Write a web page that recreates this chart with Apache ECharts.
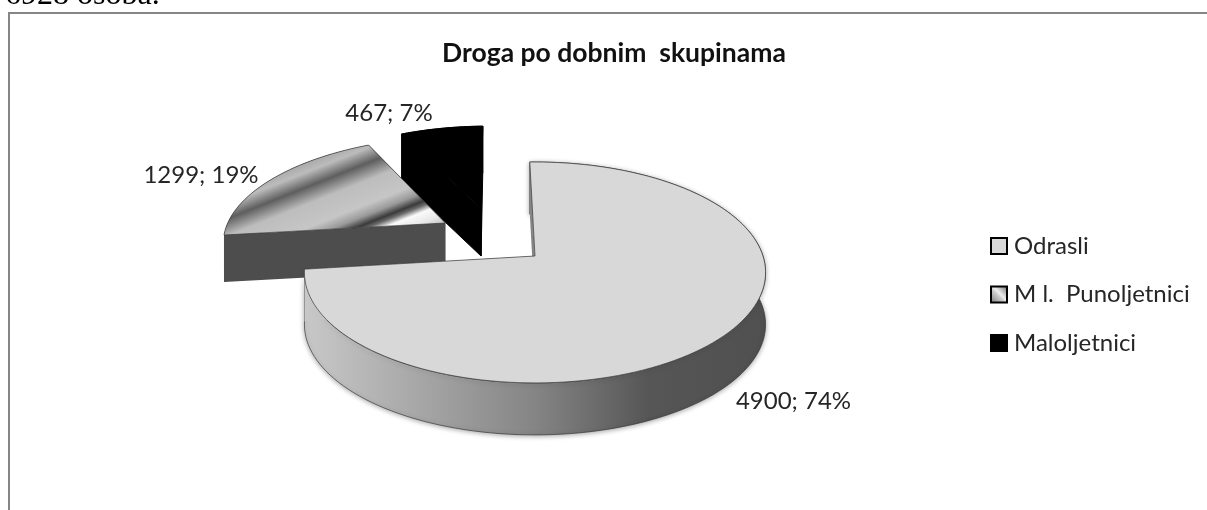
<!DOCTYPE html>
<html>
<head>
<meta charset="utf-8">
<title>Droga po dobnim skupinama</title>
<script src="https://cdn.jsdelivr.net/npm/echarts@6/dist/echarts.min.js"></script>
<style>
  html, body { margin: 0; padding: 0; background: #fff; }
  #chart { width: 1207px; height: 510px; }
</style>
</head>
<body>
<div id="chart"></div>
<script>
const categories = ['Odrasli', 'M l.  Punoljetnici', 'Maloljetnici']
const values = [4900, 1299, 467]
const captionText = '6928 osoba.'
const titleText = 'Droga po dobnim  skupinama'

const total = values.reduce((a, b) => a + b, 0)

// perspective of the pie plane
const cx = 535, cy = 256, R = 228, A = 108, k = 0.149
const startAngle = -1.5
const depth = [52, 47, 47]
const explode = [[0, 0], [-0.412, -0.32], [-0.253, -0.465]]
const labelPos = [[793.5, 401], [201, 175], [389, 113]]

const stripeStops = [
  [0, '#a8a8a8'], [10, '#bcbcbc'], [24, '#5e5e5e'], [40, '#bdbdbd'], [62, '#c6c6c6'],
  [72, '#9a9a9a'], [80, '#3a3a3a'], [84, '#6a6a6a'], [90, '#fafafa'], [100, '#e8e8e8'], [115, '#a0a0a0']
].map(s => ({ offset: s[0] / 115, color: s[1] }))

const topFill = [
  '#d8d8d8',
  new echarts.graphic.LinearGradient(320, 156, 320 + 0.37 * 115, 156 + 0.93 * 115, stripeStops, true),
  '#000'
]
const wallFill = [
  new echarts.graphic.LinearGradient(305, 0, 763, 0, [
    { offset: 0, color: '#c8c8c8' },
    { offset: 0.5, color: '#858585' },
    { offset: 0.75, color: '#565656' },
    { offset: 1, color: '#505050' }
  ], true),
  '#4d4d4d',
  '#000'
]
const edgeColor = ['#3a3a3a', '#3a3a3a', '#000']
const legendFill = [
  '#d8d8d8',
  new echarts.graphic.LinearGradient(0, 1, 1, 0, [
    { offset: 0, color: '#777' },
    { offset: 0.45, color: '#ccc' },
    { offset: 0.55, color: '#eee' },
    { offset: 1, color: '#666' }
  ]),
  '#000'
]

function project(deg, i, lift) {
  const a = deg * Math.PI / 180
  const u = Math.sin(a) + explode[i][0]
  const v = -Math.cos(a) + explode[i][1]
  const d = 1 - k * v
  return [cx + R * u / d, cy + A * v / d + (lift || 0)]
}

function apex(i, lift) {
  const u = explode[i][0], v = explode[i][1]
  const d = 1 - k * v
  return [cx + R * u / d, cy + A * v / d + (lift || 0)]
}

function rim(from, to, i, lift) {
  const pts = []
  const n = Math.ceil((to - from) / 2)
  for (let s = 0; s <= n; s++) {
    pts.push(project(from + (to - from) * s / n, i, lift))
  }
  return pts
}

function sliceAngles(i) {
  let from = startAngle
  for (let j = 0; j < i; j++) from += values[j] / total * 360
  return [from, from + values[i] / total * 360]
}

function renderSlice(i) {
  return function (params, api) {
    const value = api.value(0)
    const [from, to] = sliceAngles(i)
    const h = depth[i]
    const top = rim(from, to, i, 0)
    const low = rim(from, to, i, h).reverse()
    const edge = { stroke: edgeColor[i], lineWidth: 0.7 }
    // black slice needs a stroke on every part or the seams show
    const wallStyle = i === 2 ? { fill: '#000', stroke: '#000', lineWidth: 1 } : { fill: wallFill[i] }
    const children = []

    // walls first, the top surface hides what faces away
    children.push({
      type: 'polygon',
      shape: { points: top.concat(low) },
      style: i === 0
        ? Object.assign({ fill: wallFill[i], shadowBlur: 5, shadowColor: 'rgba(0,0,0,0.35)', shadowOffsetY: 1 }, edge)
        : wallStyle
    })
    children.push({
      type: 'polygon',
      shape: { points: [apex(i, 0), top[0], project(from, i, h), apex(i, h)] },
      style: wallStyle
    })
    children.push({
      type: 'polygon',
      shape: { points: [apex(i, 0), project(to, i, 0), project(to, i, h), apex(i, h)] },
      style: wallStyle
    })
    children.push({
      type: 'polygon',
      shape: { points: [apex(i, 0)].concat(top) },
      style: Object.assign({ fill: topFill[i] }, edge)
    })
    children.push({
      type: 'text',
      style: {
        text: value + '; ' + Math.round(value / total * 100) + '%',
        x: labelPos[i][0],
        y: labelPos[i][1],
        fill: '#262626',
        font: '24px Lato',
        align: 'center',
        verticalAlign: 'middle'
      }
    })
    return { type: 'group', children: children }
  }
}

const chart = echarts.init(document.getElementById('chart'), null, { renderer: 'canvas' })

chart.setOption({
  animation: false,
  backgroundColor: '#fff',
  title: {
    text: titleText,
    left: 609,
    top: 35,
    textAlign: 'center',
    textStyle: { fontFamily: 'Lato', fontWeight: 'bold', fontSize: 26.5, color: '#111' }
  },
  legend: {
    orient: 'vertical',
    left: 990,
    top: 234,
    padding: 0,
    itemWidth: 16,
    itemHeight: 16,
    itemGap: 24.5,
    selectedMode: false,
    textStyle: { fontFamily: 'Lato', fontSize: 24, lineHeight: 24, color: '#262626', padding: [0, 0, 0, 2] },
    data: categories.map((c, i) => ({
      name: c,
      icon: 'rect',
      itemStyle: { color: legendFill[i], borderColor: '#000', borderWidth: 2 }
    }))
  },
  graphic: [
    {
      type: 'polyline',
      shape: { points: [[9, 510], [9, 13], [1207, 13]] },
      style: { stroke: '#868686', lineWidth: 2, fill: null },
      silent: true
    },
    {
      type: 'text',
      x: 5,
      y: 12,
      style: { text: captionText, font: '32px "Liberation Serif"', fill: '#000', verticalAlign: 'bottom' },
      silent: true
    }
  ],
  // back slices come first so the big one overlaps them
  series: [2, 1, 0].map(i => ({
    type: 'custom',
    name: categories[i],
    coordinateSystem: 'none',
    z: 3 - i,
    silent: true,
    itemStyle: { color: i === 1 ? '#999' : topFill[i] },
    renderItem: renderSlice(i),
    data: [values[i]]
  }))
})
</script>
</body>
</html>
